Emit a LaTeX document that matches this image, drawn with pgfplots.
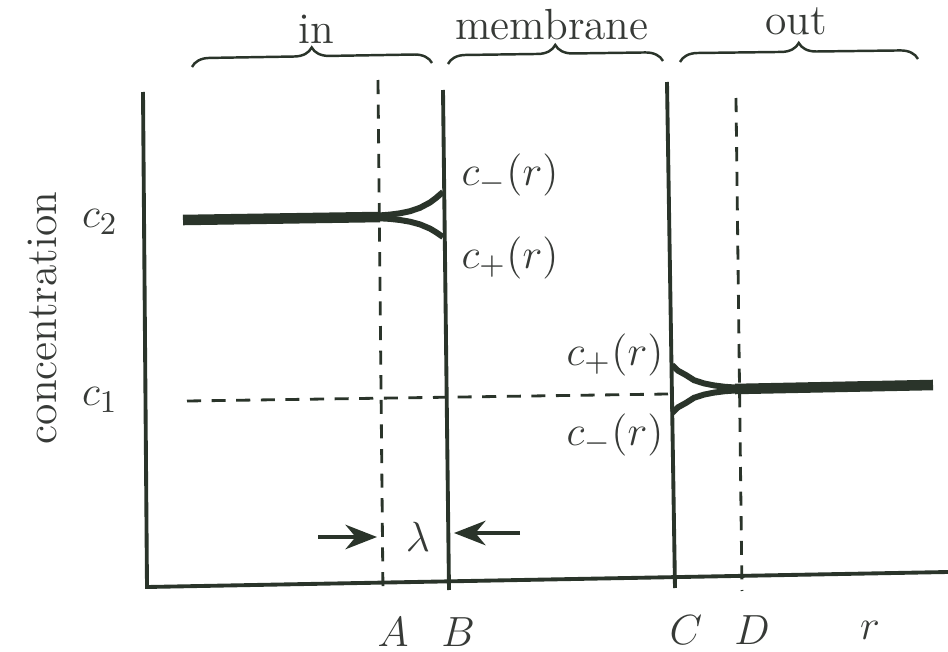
\documentclass[border=0pt]{standalone}
\usepackage{pgfplots}
\pgfplotsset{compat=1.18}
\usetikzlibrary{decorations.pathreplacing,arrows.meta}
\definecolor{ink}{RGB}{42,52,42}
\definecolor{txt}{RGB}{55,58,55}
\begin{document}
\fontsize{12.4}{15}\selectfont
\begin{tikzpicture}
\begin{axis}[scale only axis, width=94.8mm, height=65.1mm,
  xmin=0, xmax=948, ymin=0, ymax=651, hide axis, clip=false]
\coordinate (bl) at (axis cs:0,0);
\coordinate (tr) at (axis cs:948,651);
% frame
\addplot[ink, line width=1.1pt] coordinates {(143,559) (147,64) (948,79)};
% membrane boundaries
\addplot[ink, line width=1.1pt] coordinates {(443,561) (449,61)};
\addplot[ink, line width=1.1pt] coordinates {(667,569) (675,63)};
% dashed
\addplot[ink, line width=0.8pt, dash pattern=on 4pt off 3pt] coordinates {(378,571) (383,58)};
\addplot[ink, line width=0.8pt, dash pattern=on 4pt off 3pt] coordinates {(736,553) (742,60)};
\addplot[ink, line width=0.8pt, dash pattern=on 4pt off 3pt] coordinates {(187,250) (668,257)};
% inside concentration
\addplot[ink, line width=3pt] coordinates {(183,431) (380,434)};
\addplot[ink, line width=1.7pt] coordinates {(375,435.2) (390,436.4) (400,437.7) (410,439.8) (420,443.2) (430,448.5) (436,453) (443,459)};
\addplot[ink, line width=1.7pt] coordinates {(375,433) (390,432.1) (400,431) (410,429.3) (420,426.6) (430,422.4) (436,418.8) (443,414)};
% outside concentration
\addplot[ink, line width=3pt] coordinates {(735,262) (933,266)};
\addplot[ink, line width=1.7pt] coordinates {(672,286) (678,280.3) (686,275.9) (694,270.8) (704,267.6) (714,265.6) (724,264.3) (740,263.1)};
\addplot[ink, line width=1.7pt] coordinates {(672,238) (678,243.7) (686,248.1) (694,253.2) (704,256.4) (714,258.4) (724,259.7) (740,260.9)};
% lambda arrows
\addplot[ink, line width=0.9pt, -{Stealth[length=9pt,width=7pt]}] coordinates {(318,114) (377,114)};
\addplot[ink, line width=0.9pt, -{Stealth[length=9pt,width=7pt]}] coordinates {(520,118) (454,118)};
% braces
\draw[ink, line width=0.7pt, decorate, decoration={brace, amplitude=5pt}] (axis cs:192,584) -- (axis cs:432,588);
\draw[ink, line width=0.7pt, decorate, decoration={brace, amplitude=5pt}] (axis cs:448,587) -- (axis cs:663,590);
\draw[ink, line width=0.7pt, decorate, decoration={brace, amplitude=5pt}] (axis cs:680,589) -- (axis cs:918,592);
% texts
\node[txt] at (axis cs:316,622) {in};
\node[txt] at (axis cs:552,626) {membrane};
\node[txt] at (axis cs:796,630) {out};
\node[txt, rotate=90] at (axis cs:42,333) {concentration};
\node[txt] at (axis cs:100,429) {$c_2$};
\node[txt] at (axis cs:100,251) {$c_1$};
\node[txt] at (axis cs:510,476) {$c_-(r)$};
\node[txt] at (axis cs:510,393) {$c_+(r)$};
\node[txt] at (axis cs:615,296) {$c_+(r)$};
\node[txt] at (axis cs:615,216) {$c_-(r)$};
\node[txt] at (axis cs:418,114) {$\lambda$};
\node[txt] at (axis cs:393,19) {$A$};
\node[txt] at (axis cs:458,19) {$B$};
\node[txt] at (axis cs:686,21) {$C$};
\node[txt] at (axis cs:752,21) {$D$};
\node[txt] at (axis cs:870,21) {$r$};
\end{axis}
\pgfresetboundingbox
\path (bl) rectangle (tr);
\end{tikzpicture}
\end{document}
